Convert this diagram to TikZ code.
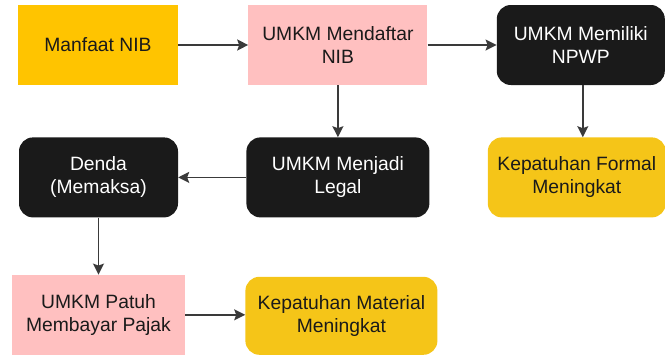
\documentclass[tikz,border=0pt]{standalone}
\usepackage{fontspec}
\setmainfont{Liberation Sans}
\usetikzlibrary{positioning,arrows.meta}

\definecolor{gold}{HTML}{FFC400}
\definecolor{amber}{HTML}{F5C518}
\definecolor{blush}{HTML}{FFC0C0}
\definecolor{ink}{HTML}{1A1A1A}
\definecolor{wire}{HTML}{3A3A3A}

\begin{document}
\begin{tikzpicture}[
        node distance=52pt,
        box/.style={rectangle, inner sep=0pt, align=center, minimum height=80pt, font=\fontsize{19.3}{23}\selectfont},
        plainbox/.style={box, fill=blush, text=ink},
        goldbox/.style={box, fill=gold, text=ink},
        darkbox/.style={box, fill=ink, text=white, rounded corners=14pt},
        goalbox/.style={box, fill=amber, text=ink, rounded corners=14pt},
        arrow/.style={-{Stealth[length=11pt, width=11pt, inset=2pt]}, line width=1.6pt, draw=wire}
    ]
        \useasboundingbox (0pt,0pt) rectangle (665pt,-354pt);

        \node[goldbox, minimum width=160pt] (manfaat) at (98pt,-45pt) {Manfaat NIB};
        \node[plainbox, minimum width=179pt, right=70pt of manfaat] (daftar) {UMKM Mendaftar\\NIB};
        \node[darkbox, minimum width=168pt, right=69pt of daftar] (npwp) {UMKM Memiliki\\NPWP};
        \node[darkbox, minimum width=183pt, below=52pt of daftar] (legal) {UMKM Menjadi\\Legal};
        \node[darkbox, minimum width=159pt, left=68pt of legal] (denda) {Denda\\(Memaksa)};
        \node[goalbox, minimum width=178pt, right=58pt of legal] (formal) {Kepatuhan Formal\\Meningkat};
        \node[plainbox, minimum width=173pt, below=57pt of denda] (patuh) {UMKM Patuh\\Membayar Pajak};
        \node[goalbox, minimum width=192pt, minimum height=78pt, anchor=west] (material) at ([xshift=60pt, yshift=-1pt]patuh.east) {Kepatuhan Material\\Meningkat};

        \draw[arrow] (manfaat) -- (daftar);
        \draw[arrow] (daftar) -- (npwp);
        \draw[arrow] (daftar) -- (legal);
        \draw[arrow] ([xshift=2pt]npwp.south) -- ([xshift=2pt]npwp.south |- formal.north);
        \draw[arrow] (legal) -- (denda);
        \draw[arrow] (denda) -- (patuh);
        \draw[arrow] (patuh) -- (patuh -| material.west);
    \end{tikzpicture}
\end{document}
